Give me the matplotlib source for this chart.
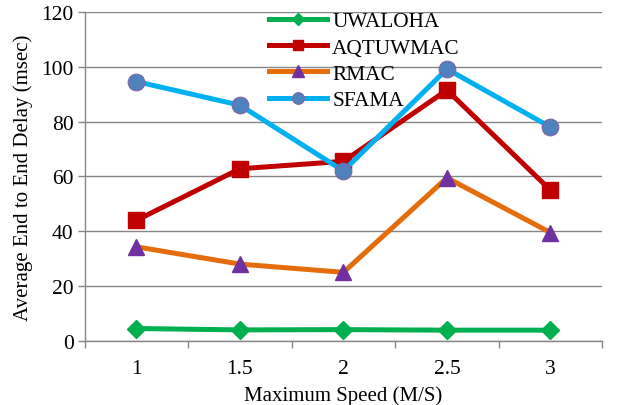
import matplotlib.pyplot as plt

speeds = ["1", "1.5", "2", "2.5", "3"]
uwaloha = [4.5, 4.0, 4.1, 3.9, 3.9]
aqtuwmac = [44.0, 62.8, 65.5, 91.5, 55.0]
rmac = [34.3, 28.0, 25.0, 59.5, 39.5]
sfama = [94.6, 86.0, 62.0, 99.2, 78.0]

plt.rcParams["font.family"] = ["Liberation Serif", "DejaVu Serif"]

fig = plt.figure(figsize=(6.42, 4.06), dpi=100)
ax = fig.add_axes([0.132, 0.158, 0.806, 0.81])

x = list(range(len(speeds)))

ax.plot(x, uwaloha, color="#00B050", lw=3.6, marker="D", ms=9,
        mfc="#00B050", mec="#00B050", label="UWALOHA")
ax.plot(x, aqtuwmac, color="#C00000", lw=3.6, marker="s", ms=11,
        mfc="#C00000", mec="#C00000", label="AQTUWMAC")
ax.plot(x, rmac, color="#E46C0A", lw=3.6, marker="^", ms=12,
        mfc="#7030A0", mec="#7030A0", label="RMAC")
ax.plot(x, sfama, color="#00B0F0", lw=3.6, marker="o", ms=12,
        mfc="#4F81BD", mec="#8064A2", mew=0.8, label="SFAMA")

ax.set_xlim(-0.5, len(speeds) - 0.5)
ax.set_ylim(0, 120)
ax.set_yticks([0, 20, 40, 60, 80, 100, 120])
ax.set_xticks(x)
ax.set_xticklabels(speeds)
ax.set_xticks([i - 0.5 for i in range(len(speeds) + 1)], minor=True)
ax.tick_params(axis="x", which="major", length=0, labelsize=15.5, pad=13)
ax.tick_params(axis="x", which="minor", length=5, color="#868686", width=1)
ax.tick_params(axis="y", length=5, color="#868686", width=1, labelsize=15.5, pad=3)

ax.grid(axis="y", color="#868686", lw=1)
ax.set_axisbelow(True)
for s in ["top", "right"]:
    ax.spines[s].set_visible(False)
for s in ["left", "bottom"]:
    ax.spines[s].set_color("#868686")
    ax.spines[s].set_linewidth(1)

ax.set_xlabel("Maximum Speed (M/S)", fontsize=15, labelpad=5)
ax.set_ylabel("Average End to End Delay (msec)", fontsize=15, labelpad=6)

fig.legend(loc="upper left", bbox_to_anchor=(0.405, 0.99), frameon=False,
           fontsize=15.3, handlelength=2.75, handletextpad=0.25,
           labelspacing=0.3, markerscale=0.7, borderaxespad=0)

fig.savefig("out.png", dpi=100)
